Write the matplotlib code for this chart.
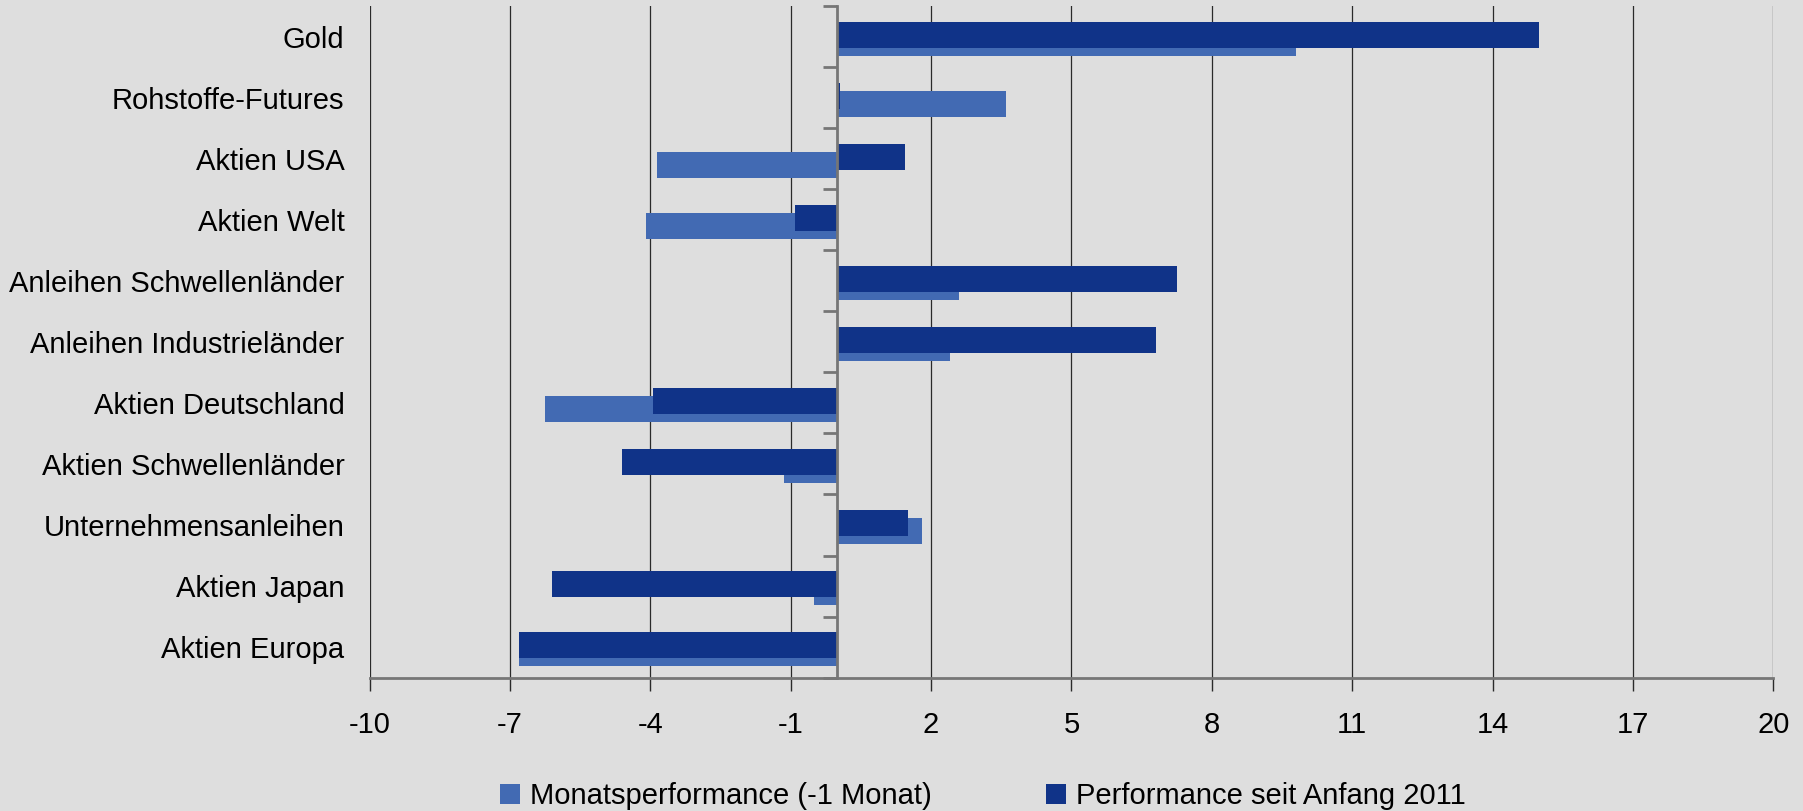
import numpy as np
import matplotlib
matplotlib.use("Agg")
import matplotlib.pyplot as plt
from matplotlib.patches import Patch

# categories top to bottom
categories = ["Gold", "Rohstoffe-Futures", "Aktien USA", "Aktien Welt",
              "Anleihen Schwellenländer", "Anleihen Industrieländer",
              "Aktien Deutschland", "Aktien Schwellenländer",
              "Unternehmensanleihen", "Aktien Japan", "Aktien Europa"]
monat = [9.8, 3.6, -3.85, -4.1, 2.6, 2.4, -6.25, -1.15, 1.8, -0.5, -6.8]
seit_2011 = [15.0, 0.05, 1.45, -0.9, 7.25, 6.8, -3.95, -4.6, 1.5, -6.1, -6.8]
xticks = [-10, -7, -4, -1, 2, 5, 8, 11, 14, 17, 20]

light = "#426AB3"
dark = "#103388"
bg = "#DEDEDE"
axis_grey = "#767676"

plt.rcParams['font.family'] = ['Liberation Sans', 'DejaVu Sans']
fs = 21

fig = plt.figure(figsize=(18.03, 8.11), dpi=100, facecolor=bg)
ax = fig.add_axes([0.205, 0.1644, 0.7785, 0.8282])
ax.set_facecolor(bg)

y = np.arange(len(categories))
h = 0.425
ax.barh(y + 0.10, monat, height=h, color=light, zorder=3,
        label="Monatsperformance (-1 Monat)")
ax.barh(y - 0.03, seit_2011, height=h, color=dark, zorder=4,
        label="Performance seit Anfang 2011")

ax.set_xlim(-10, 20)
ax.set_ylim(len(categories) - 0.5, -0.5)

# vertical grid
for xv in xticks:
    ax.axvline(xv, color="#2a2a2a", lw=0.9, zorder=1)

ax.set_xticks(xticks)
ax.set_xticklabels([str(v) for v in xticks], fontsize=fs)
ax.tick_params(axis="x", length=9, width=1, color="#2a2a2a", pad=15)

ax.set_yticks(y)
ax.set_yticklabels(categories, fontsize=fs)
ax.tick_params(axis="y", length=0, pad=18)

for s in ["top", "right", "left"]:
    ax.spines[s].set_visible(False)
ax.spines["bottom"].set_color(axis_grey)
ax.spines["bottom"].set_linewidth(2)
ax.spines["bottom"].set_zorder(5)

# zero axis with category boundary ticks
zero_frac = (0 - xticks[0]) / (xticks[-1] - xticks[0])
zax = ax.secondary_yaxis(zero_frac)
zax.set_yticks(np.arange(len(categories) + 1) - 0.5)
zax.set_yticklabels([])
zax.tick_params(axis="y", direction="out", length=10, width=2, color=axis_grey)
zax.spines["left"].set_color(axis_grey)
zax.spines["left"].set_linewidth(2)
zax.set_zorder(6)

handles = [Patch(facecolor=light, edgecolor="none", label="Monatsperformance (-1 Monat)"),
           Patch(facecolor=dark, edgecolor="none", label="Performance seit Anfang 2011")]
fig.legend(handles=handles, loc="center", bbox_to_anchor=(0.545, 0.0185), ncol=2,
           frameon=False, fontsize=fs, handlelength=0.69, handleheight=0.69,
           handletextpad=0.35, columnspacing=3.9, borderaxespad=0)

fig.savefig("out.png", dpi=100, facecolor=bg)
